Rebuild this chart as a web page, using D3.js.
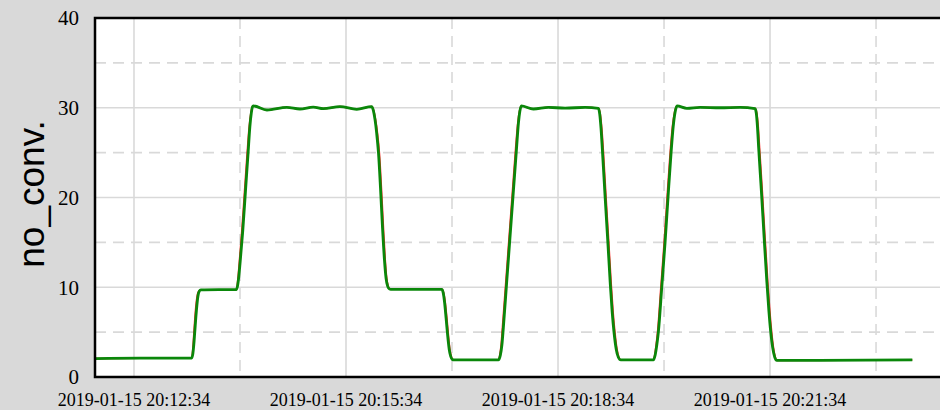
<!DOCTYPE html>
<html>
<head>
<meta charset="utf-8">
<script src="https://cdn.jsdelivr.net/npm/d3@7"></script>
<style>
  body { margin: 0; background: #d9d9d9; }
  svg { display: block; }
  .tick-label { font-family: 'Liberation Serif', 'Times New Roman', Times, 'DejaVu Serif', serif; }
  .axis-title { font-family: 'Liberation Sans', Arial, Helvetica, sans-serif; }
</style>
</head>
<body>
<div id="svgContainer"></div>
<script>
// seconds relative to 2019-01-15 20:12:34
const greenTimes = [-33.1, 5.1, 49.0, 50.0, 50.8, 51.6, 53.0, 54.3, 55.4, 56.8,
  87.0, 88.0, 89.0, 90.0, 92.3, 94.6, 96.9, 98.4, 99.6, 100.8, 101.5,
  112.9, 129.7, 140.9, 152.2, 160.7, 174.9, 189.1, 201.8,
  203.2, 204.6, 206.0, 207.6, 209.3, 211.0, 212.6, 214.0, 215.4, 216.8, 218.0,
  261.3, 262.5, 263.7, 265.0, 266.3, 267.6, 268.9, 270.3, 271.5,
  309.4, 311.0, 312.4, 313.6, 316.4, 319.2, 322.0, 324.8, 326.4, 327.6, 328.8,
  339.1, 351.8, 366.0, 383.0, 394.3,
  395.4, 396.5, 397.7, 400.0, 402.3, 404.4, 406.0, 407.6, 409.4, 411.2, 413.3,
  441.0, 442.4, 443.8, 445.2, 448.1, 450.9, 453.4, 456.0, 457.8, 459.4, 461.0,
  469.4, 480.6, 497.6, 514.6, 527.3,
  528.3, 529.3, 530.3, 532.7, 535.0, 537.3, 539.0, 540.6, 542.2, 543.9, 545.7, 660.8]
const greenValues = [2.05, 2.1, 2.1, 2.6, 3.6, 5.0, 7.4, 9.0, 9.55, 9.7,
  9.75, 10.2, 11.2, 12.6, 16.2, 20.6, 25.0, 27.9, 29.4, 30.15, 30.2,
  29.75, 30.05, 29.86, 30.08, 29.9, 30.12, 29.83, 30.12,
  29.7, 28.7, 27.2, 24.9, 21.0, 16.6, 13.1, 11.0, 10.1, 9.82, 9.77,
  9.77, 9.4, 8.3, 6.5, 4.6, 3.1, 2.3, 1.95, 1.9,
  1.9, 2.4, 3.6, 5.5, 10.5, 15.5, 20.5, 25.5, 28.3, 29.6, 30.2,
  29.86, 30.05, 29.95, 30.05, 29.94,
  29.3, 27.7, 25.2, 20.0, 15.0, 10.3, 7.2, 4.9, 3.1, 2.2, 1.9,
  1.9, 2.4, 3.5, 5.0, 10.0, 15.0, 20.0, 25.0, 27.9, 29.5, 30.2,
  29.94, 30.05, 30.0, 30.05, 29.9,
  29.4, 27.9, 25.6, 20.6, 15.5, 10.6, 7.4, 5.0, 3.3, 2.25, 1.85, 1.9]
// reference signal: leads on rising edges, lags on falling edges
const redTimes = [-33.1, 5.1, 48.8, 49.6, 50.2, 50.9, 52.2, 53.6, 54.9, 56.6,
  86.8, 87.6, 88.4, 89.3, 91.5, 93.8, 96.1, 97.8, 99.2, 100.6, 101.5,
  112.9, 129.7, 140.9, 152.2, 160.7, 174.9, 189.1, 201.8,
  203.5, 205.1, 206.7, 208.4, 210.1, 211.8, 213.3, 214.6, 215.9, 217.1, 218.2,
  261.5, 262.9, 264.3, 265.7, 267.0, 268.2, 269.4, 270.6, 271.7,
  309.2, 310.5, 311.7, 312.8, 315.6, 318.4, 321.2, 324.0, 325.8, 327.2, 328.7,
  339.1, 351.8, 366.0, 383.0, 394.5,
  395.9, 397.2, 398.5, 400.8, 403.1, 405.2, 406.8, 408.4, 410.1, 411.7, 413.5,
  440.8, 442.0, 443.2, 444.5, 447.3, 450.1, 452.6, 455.2, 457.1, 458.9, 460.8,
  469.4, 480.6, 497.6, 514.6, 527.5,
  528.8, 530.0, 531.1, 533.5, 535.8, 538.1, 539.8, 541.4, 542.9, 544.4, 546.0, 660.8]
const redValues = [2.05, 2.1, 2.1, 2.6, 3.6, 5.0, 7.4, 9.0, 9.55, 9.7,
  9.75, 10.2, 11.2, 12.6, 16.2, 20.6, 25.0, 27.9, 29.4, 30.15, 30.2,
  29.75, 30.05, 29.86, 30.08, 29.9, 30.12, 29.83, 30.12,
  29.7, 28.7, 27.2, 24.9, 21.0, 16.6, 13.1, 11.0, 10.1, 9.82, 9.77,
  9.77, 9.4, 8.3, 6.5, 4.6, 3.1, 2.3, 1.95, 1.9,
  1.9, 2.4, 3.6, 5.5, 10.5, 15.5, 20.5, 25.5, 28.3, 29.6, 30.2,
  29.86, 30.05, 29.95, 30.05, 29.94,
  29.3, 27.7, 25.2, 20.0, 15.0, 10.3, 7.2, 4.9, 3.1, 2.2, 1.9,
  1.9, 2.4, 3.5, 5.0, 10.0, 15.0, 20.0, 25.0, 27.9, 29.5, 30.2,
  29.94, 30.05, 30.0, 30.05, 29.9,
  29.4, 27.9, 25.6, 20.6, 15.5, 10.6, 7.4, 5.0, 3.3, 2.25, 1.85, 1.9]

const yTicks = [0, 10, 20, 30, 40]
const yMinor = [5, 15, 25, 35]
const xTickLabels = ['2019-01-15 20:12:34', '2019-01-15 20:15:34', '2019-01-15 20:18:34', '2019-01-15 20:21:34']

const width = 940, height = 410
const plot = { left: 95, top: 18, right: 940, bottom: 377 }

const parseTime = d3.timeParse('%Y-%m-%d %H:%M:%S')
const t0 = parseTime('2019-01-15 20:12:34')
const toDate = (s) => new Date(t0.getTime() + s * 1000)
const timeFormat = d3.timeFormat('%Y-%m-%d %H:%M:%S')

const xScale = d3.scaleTime()
  .domain([toDate(-33.1), toDate(684.3)])
  .range([plot.left, plot.right])
const yScale = d3.scaleLinear()
  .domain([0, 40])
  .range([plot.bottom, plot.top])

const xMajor = xTickLabels.map(parseTime)
const xMinorTicks = xMajor.map(d => new Date(d.getTime() + 90000))

const svg = d3.select('#svgContainer')
  .append('svg')
  .attr('width', width)
  .attr('height', height)
  .style('background-color', '#d9d9d9')

svg.append('rect')
  .attr('x', plot.left)
  .attr('y', plot.top)
  .attr('width', plot.right - plot.left + 10)
  .attr('height', plot.bottom - plot.top)
  .attr('fill', '#fff')

const grid = svg.append('g').attr('stroke', '#d9d9d9').attr('stroke-width', 1.6)

grid.selectAll('.hmajor')
  .data(yTicks.slice(1, 4))
  .enter().append('line')
  .attr('x1', plot.left).attr('x2', plot.right)
  .attr('y1', d => yScale(d)).attr('y2', d => yScale(d))

grid.selectAll('.hminor')
  .data(yMinor)
  .enter().append('line')
  .attr('x1', plot.left).attr('x2', plot.right)
  .attr('y1', d => yScale(d)).attr('y2', d => yScale(d))
  .attr('stroke-dasharray', '11,7')

grid.selectAll('.vmajor')
  .data(xMajor)
  .enter().append('line')
  .attr('x1', d => xScale(d)).attr('x2', d => xScale(d))
  .attr('y1', plot.top).attr('y2', plot.bottom)

grid.selectAll('.vminor')
  .data(xMinorTicks)
  .enter().append('line')
  .attr('x1', d => xScale(d)).attr('x2', d => xScale(d))
  .attr('y1', plot.top).attr('y2', plot.bottom)
  .attr('stroke-dasharray', '11,7')

const line = d3.line()
  .x(d => xScale(toDate(d[0])))
  .y(d => yScale(d[1]))
  .curve(d3.curveMonotoneX)

svg.append('path')
  .datum(redTimes.map((t, i) => [t, redValues[i]]))
  .attr('d', line)
  .attr('fill', 'none')
  .attr('stroke', '#ff2020')
  .attr('stroke-width', 1.6)

svg.append('path')
  .datum(greenTimes.map((t, i) => [t, greenValues[i]]))
  .attr('d', line)
  .attr('fill', 'none')
  .attr('stroke', '#0a870a')
  .attr('stroke-width', 2.8)

// frame
svg.append('path')
  .attr('d', `M${plot.right + 5},${plot.top}H${plot.left}V${plot.bottom}H${plot.right + 5}`)
  .attr('fill', 'none')
  .attr('stroke', '#000')
  .attr('stroke-width', 2.5)

svg.append('g')
  .selectAll('text')
  .data(yTicks)
  .enter().append('text')
  .attr('class', 'tick-label')
  .attr('x', 79)
  .attr('y', d => yScale(d))
  .attr('dy', '0.35em')
  .attr('text-anchor', 'end')
  .style('font-size', '21px')
  .text(d => d)

svg.append('g')
  .selectAll('text')
  .data(xMajor)
  .enter().append('text')
  .attr('class', 'tick-label')
  .attr('x', d => xScale(d))
  .attr('y', 406)
  .attr('text-anchor', 'middle')
  .style('font-size', '18px')
  .text(d => timeFormat(d))

svg.append('text')
  .attr('class', 'axis-title')
  .attr('transform', 'translate(44,194) rotate(-90)')
  .attr('text-anchor', 'middle')
  .style('font-size', '37px')
  .text('no_conv.')
</script>
</body>
</html>
